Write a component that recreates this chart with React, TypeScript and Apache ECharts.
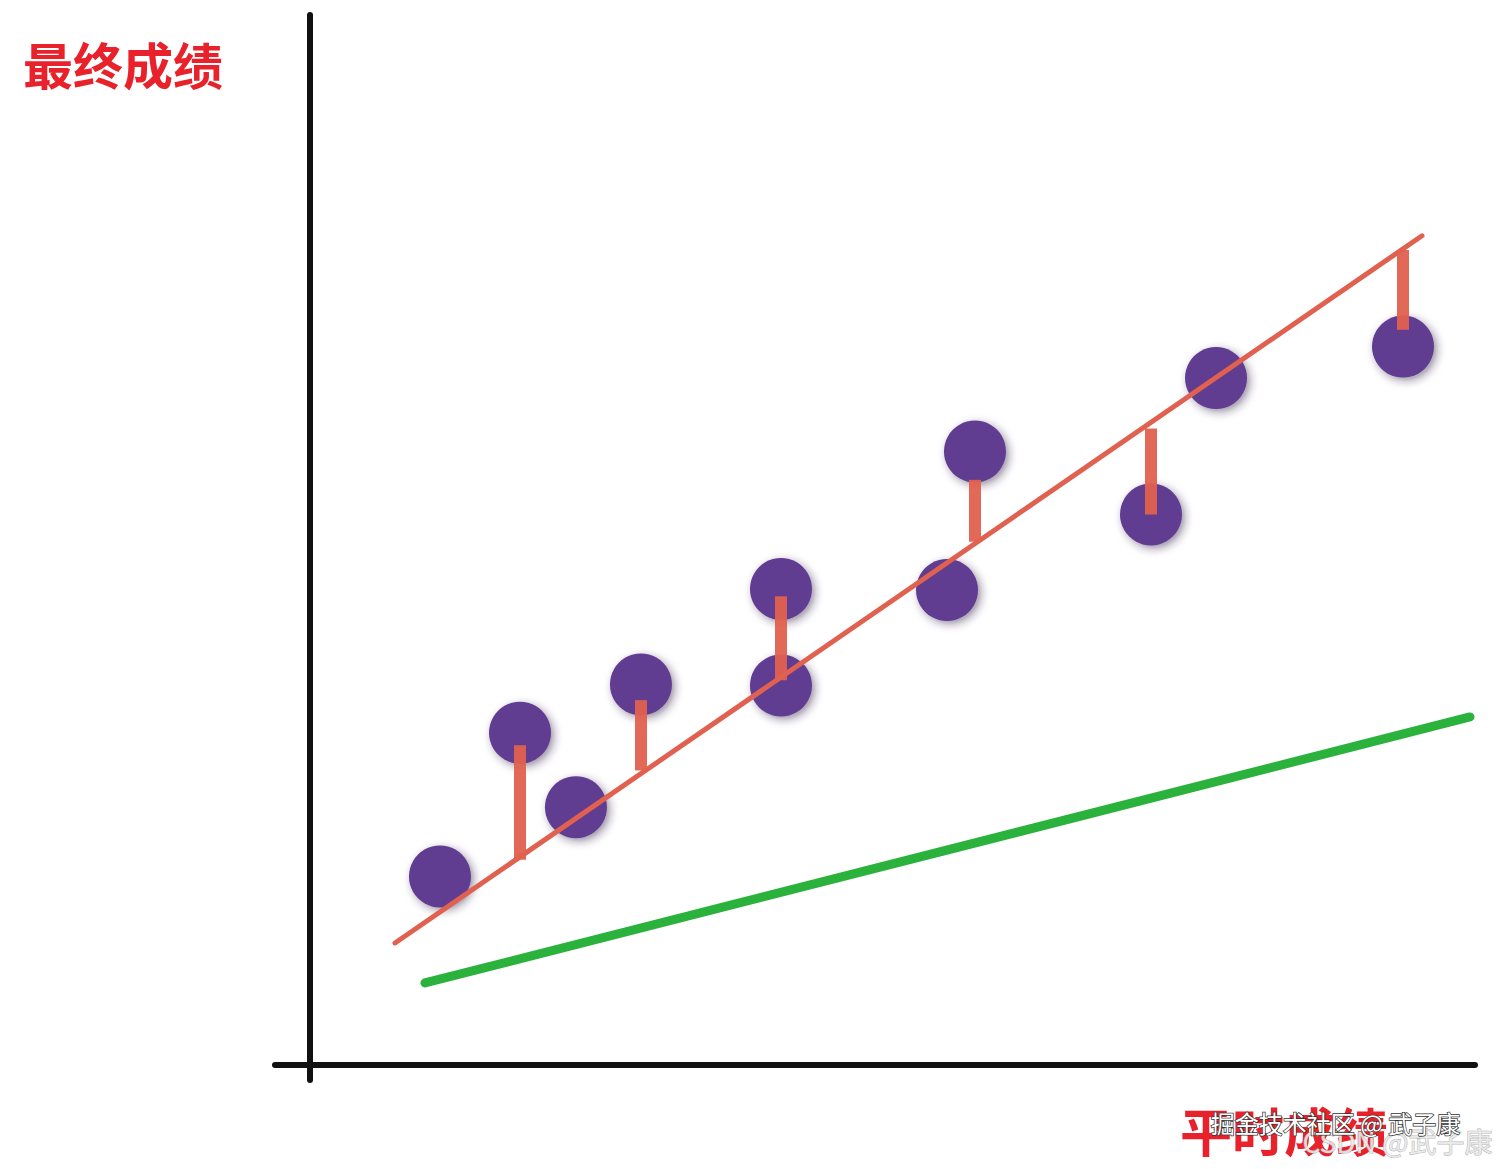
import React, { useEffect, useRef } from "react";
import * as echarts from "echarts";

const points: [number, number][] = [
  [11.16, 17.9],
  [18.03, 31.6],
  [22.83, 24.5],
  [28.41, 36.2],
  [40.43, 45.3],
  [40.43, 36.1],
  [57.08, 58.4],
  [54.68, 45.2],
  [72.19, 52.4],
  [77.77, 65.4],
  [93.82, 68.4],
];

const fitLine: [number, number][] = [
  [7.3, 11.56],
  [95.45, 78.96],
];

const greenLine: [number, number][] = [
  [9.87, 7.75],
  [99.57, 33.1],
];

// residual segments: [x, yTop, yBottom]
const residuals: [number, number, number][] = [
  [18.03, 30.4, 19.5],
  [28.41, 34.7, 28.0],
  [40.43, 44.6, 36.6],
  [57.08, 55.7, 49.8],
  [72.19, 60.6, 52.4],
  [93.82, 77.6, 70.0],
];

const yTitle = "最终成绩";
const xTitle = "平时成绩";

export default function App() {
  const ref = useRef<HTMLDivElement>(null);
  useEffect(() => {
    if (!ref.current) return;
    const chart = echarts.init(ref.current, undefined, { renderer: "svg" });
    chart.setOption({
      animation: false,
      backgroundColor: "#ffffff",
      grid: { left: 275, right: 25, top: 15, bottom: 89 },
      xAxis: {
        type: "value",
        min: -3,
        max: 100,
        axisLine: { show: true, onZero: true, lineStyle: { color: "#111", width: 6 } },
        axisTick: { show: false },
        axisLabel: { show: false },
        splitLine: { show: false },
      },
      yAxis: {
        type: "value",
        min: -1.5,
        max: 100,
        axisLine: { show: true, onZero: true, lineStyle: { color: "#111", width: 6 } },
        axisTick: { show: false },
        axisLabel: { show: false },
        splitLine: { show: false },
      },
      graphic: [
        {
          type: "text",
          left: 23,
          top: 38,
          style: {
            text: yTitle,
            fill: "#e8212b",
            font: "bold 50px 'Noto Sans CJK SC'",
          },
        },
        {
          type: "text",
          left: 1180,
          top: 1103,
          style: {
            text: xTitle,
            fill: "#e8212b",
            font: "bold 52px 'Noto Sans CJK SC'",
            shadowBlur: 4,
            shadowColor: "rgba(232,33,43,0.6)",
          },
        },
        {
          type: "text",
          left: 1302,
          top: 1126,
          style: {
            text: "CSDN @武子康",
            fill: "rgba(235,235,235,0.9)",
            stroke: "rgba(150,150,150,0.7)",
            lineWidth: 1,
            font: "28px 'Noto Sans CJK SC'",
          },
        },
        {
          type: "text",
          left: 1210,
          top: 1110,
          style: {
            text: "掘金技术社区 @ 武子康",
            fill: "#ffffff",
            stroke: "#333333",
            lineWidth: 1.5,
            font: "24px 'Noto Sans CJK SC'",
          },
        },
      ],
      series: [
        {
          type: "line",
          data: greenLine,
          symbol: "none",
          lineStyle: { color: "#2ab23c", width: 9, cap: "round" },
          z: 2,
        },
        {
          type: "line",
          data: fitLine,
          symbol: "none",
          lineStyle: { color: "#e0614f", width: 5, cap: "round" },
          z: 4,
        },
        {
          type: "scatter",
          data: points,
          symbolSize: 62,
          itemStyle: {
            color: "#603c90",
            opacity: 1,
            shadowBlur: 8,
            shadowColor: "rgba(50,30,70,0.5)",
            shadowOffsetX: 3,
            shadowOffsetY: 3,
          },
          z: 3,
        },
        {
          type: "lines",
          coordinateSystem: "cartesian2d",
          data: residuals.map((r) => ({ coords: [[r[0], r[1]], [r[0], r[2]]] })),
          lineStyle: { color: "#e0614f", width: 12, opacity: 0.95 },
          z: 5,
        },
      ],
    });
    return () => chart.dispose();
  }, []);
  return (
    <div
      ref={ref}
      style={{ position: "absolute", left: 0, top: 0, width: 1500, height: 1169 }}
    />
  );
}
